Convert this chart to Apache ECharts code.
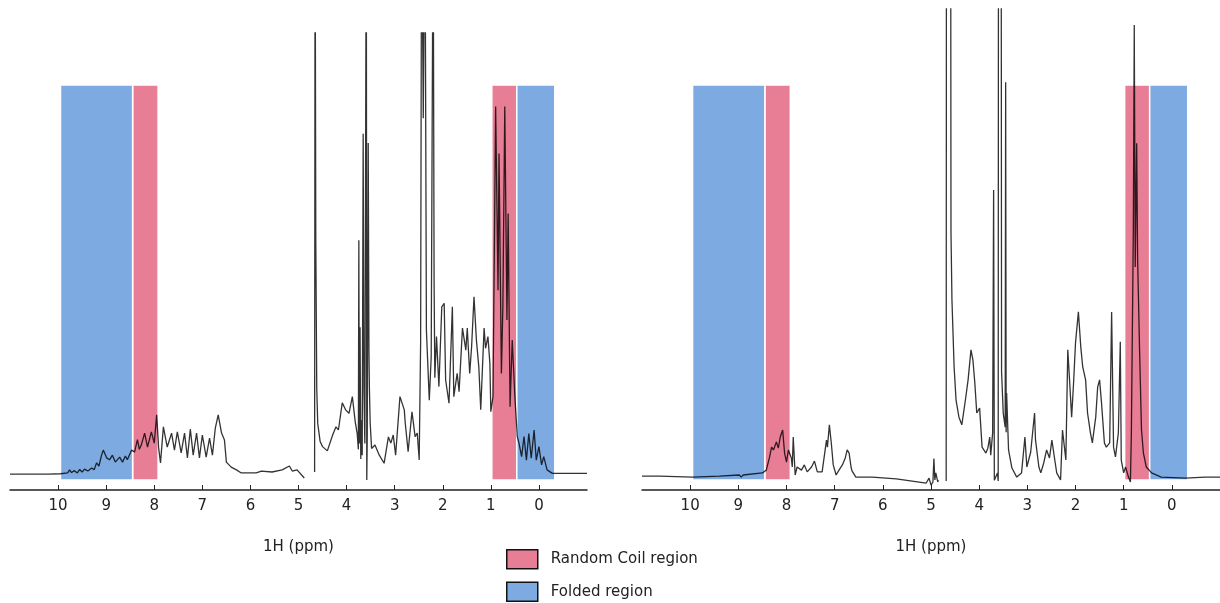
<!DOCTYPE html>
<html>
<head>
<meta charset="utf-8">
<script src="https://cdn.jsdelivr.net/npm/echarts@6/dist/echarts.min.js"></script>
<style>
html,body{margin:0;padding:0;background:#fff;}
#chart{width:1220px;height:603px;}
</style>
</head>
<body>
<div id="chart"></div>
<script>
// ---- data ----
const tickValues = [0,1,2,3,4,5,6,7,8,9,10];
const axisTitle = '1H (ppm)';
const randomCoilName = 'Random Coil region';
const foldedName = 'Folded region';
const randomCoilRanges = [[8.45, 7.92], [0.98, 0.46]];
const foldedRanges = [[9.95, 8.45], [0.46, -0.33]];
const leftRegionY = [-1.4, 100.6];
const rightRegionY = [-1.1, 112.2];

const leftPpm = [11.0,10.2,9.95,9.8,9.76,9.72,9.66,9.6,9.55,9.5,9.45,9.38,9.3,9.25,9.2,9.15,9.1,9.06,8.99,8.93,8.87,8.81,8.72,8.66,8.6,8.56,8.47,8.41,8.35,8.31,8.27,8.2,8.14,8.06,8.0,7.95,7.91,7.87,7.81,7.73,7.64,7.58,7.52,7.44,7.37,7.31,7.25,7.19,7.12,7.06,7.0,6.92,6.85,6.79,6.73,6.67,6.6,6.54,6.5,6.4,6.29,6.19,5.88,5.77,5.55,5.34,5.19,5.13,5.03,4.88,4.8,
4.665,4.655,4.64,4.62,4.6,4.55,4.5,4.4,4.29,4.22,4.17,4.09,4.02,3.95,3.88,3.82,3.78,3.755,3.745,3.735,3.72,3.705,3.69,3.675,3.655,3.64,3.62,3.59,3.58,3.57,3.55,3.535,3.525,3.51,3.48,3.41,3.32,3.22,3.13,3.08,3.03,2.98,2.89,2.8,2.78,2.72,2.64,2.575,2.53,2.49,2.46,2.44,2.405,2.37,2.34,2.28,2.24,2.2,2.18,2.165,2.13,2.08,2.02,1.97,1.94,1.87,1.8,1.77,1.7,1.66,1.59,1.52,1.49,1.44,1.4,1.35,1.3,1.25,1.21,1.14,1.11,1.06,1.02,1.0,0.955,0.9,0.85,0.83,0.78,0.75,0.71,0.665,0.64,0.6,0.555,0.5,0.45,0.415,0.36,0.31,0.26,0.21,0.16,0.1,0.055,0.0,-0.055,-0.1,-0.17,-0.28,-1.0];
const leftIntensity = [0.1,0.1,0.2,0.4,1.2,0.5,1.0,0.4,1.3,0.6,1.4,0.9,1.7,1.2,3.0,2.2,4.8,6.3,4.3,3.8,5.0,3.2,4.5,3.2,4.8,3.8,6.3,5.8,9.0,6.5,7.6,10.7,7.1,11.0,8.1,15.4,7.0,3.0,12.3,7.1,10.7,6.3,11.0,5.6,10.7,4.3,11.7,5.0,10.7,4.3,10.2,4.5,9.4,5.0,12.0,15.4,10.7,8.9,3.2,1.9,1.2,0.4,0.4,0.9,0.65,1.2,2.2,0.9,1.2,-0.9,null,
0.65,150,60,22,13.2,8.5,7.2,6.1,10.2,12.3,11.5,18.5,16.7,15.8,20.1,13.6,10.6,6.5,60.5,8,38,4,14,5,88,22,8,150,-1.4,10,85.6,32,22,13.5,6.7,7.6,5.0,2.9,9.7,8.1,10.2,5.0,20.1,16.7,13.3,5.9,16.2,9.8,10.7,3.75,34.3,150,92,150,37.3,19.2,30.4,150,50,25,35.6,22.7,43.3,44.2,24.4,18.4,43.3,20.1,26.1,21.4,37.8,32.1,37.8,26.1,33.0,45.9,34.7,27.8,16.7,37.8,32.6,35.6,28.7,16.2,20.1,95.0,47.6,82.9,26.1,43.3,95.0,39.9,67.4,17.5,34.7,20.1,9.8,8.1,4.6,9.8,3.7,10.6,4.2,11.5,3.7,7.2,2.5,4.6,1.2,0.3,0.3];

const rightPpm = [11.0,10.63,9.95,9.4,8.98,8.94,8.9,8.5,8.42,8.35,8.31,8.27,8.21,8.17,8.13,8.08,8.04,8.0,7.96,7.9,7.88,7.86,7.82,7.78,7.69,7.63,7.57,7.48,7.42,7.36,7.26,7.17,7.15,7.11,7.07,7.03,6.97,6.91,6.84,6.78,6.74,6.7,6.66,6.64,6.56,6.22,5.72,5.1,5.04,5.0,4.96,4.94,4.92,4.9,4.86,4.85,4.75,
4.685,4.675,4.6,4.585,4.565,4.52,4.48,4.42,4.36,4.28,4.23,4.17,4.13,4.09,4.05,3.99,3.94,3.86,3.82,3.78,3.76,3.72,3.7,3.685,3.62,3.605,3.595,3.55,3.535,3.5,3.46,3.45,3.44,3.43,3.39,3.32,3.22,3.12,3.05,3.01,2.93,2.85,2.83,2.76,2.72,2.66,2.6,2.54,2.49,2.43,2.39,2.31,2.27,2.2,2.16,2.12,2.08,2.04,2.0,1.94,1.89,1.85,1.79,1.75,1.69,1.65,1.58,1.54,1.5,1.46,1.4,1.36,1.29,1.25,1.21,1.17,1.11,1.07,1.05,1.0,0.96,0.9,0.86,0.84,0.8,0.78,0.76,0.73,0.71,0.67,0.63,0.59,0.53,0.42,0.22,-0.28,-0.69,-1.0];
const rightIntensity = [0.0,0.0,-0.3,0.0,0.3,-0.3,0.3,0.9,1.7,5.5,8.3,7.5,9.8,8.0,11.2,13.2,6.6,4.0,7.5,5.2,2.6,11.2,0.3,2.6,1.7,3.2,1.2,2.6,4.3,1.2,1.2,10.3,8.3,14.7,9.5,3.2,0.3,1.7,3.2,5.2,7.5,6.6,2.6,1.5,-0.3,-0.3,-0.8,-2.0,-0.6,-2.6,-1.7,5.0,-1.1,0.9,-1.7,-1.1,null,
-1.4,300,300,70,50.5,31.3,21.8,16.9,14.7,22.4,27.6,36.2,33.3,26.7,18.1,19.5,8.3,6.6,8.0,11.2,6.0,12.4,82.1,-1.2,0.9,-1.4,300,300,30,18,14,113,12.6,23.8,7.5,2.3,-0.3,0.9,11.2,2.6,6.9,18.1,10.3,2.6,0.9,3.75,7.5,5.2,10.3,4.6,0.9,-1.1,13.2,4.6,36.2,26.7,16.9,26.7,38.2,47.1,37.0,31.3,27.6,18.1,12.4,9.5,16.9,25.5,27.6,21.0,9.5,8.3,9.5,47.1,8.3,5.5,12.4,38.5,4.6,0.9,2.6,-0.3,-1.7,12.4,69.7,129.4,60.0,95.5,62.0,36.2,13.2,6.6,2.6,0.9,-0.3,-0.6,-0.3,-0.3];

// ---- chart ----
const PINK = '#e87d96';
const BLUE = '#7eaae2';
const FONT = 'DejaVu Sans';

function pairs(xs, ys){ return xs.map((x,i)=>[x, ys[i] === null ? '-' : ys[i]]); }
function areas(ranges, yr){
  return ranges.map(r => [{coord:[r[0], yr[0]]}, {coord:[r[1], yr[1]]}]);
}
function xAxisFor(gi){
  return {
    gridIndex: gi, type:'value', min:-1, max:11, interval:1, inverse:true,
    axisLine:{show:true, onZero:false, lineStyle:{color:'#222', width:1.5}},
    axisTick:{show:true, inside:true, length:5, customValues: tickValues, lineStyle:{color:'#222', width:1}},
    axisLabel:{show:true, customValues: tickValues, color:'#222', fontSize:15, fontFamily:FONT, margin:9},
    splitLine:{show:false},
    name: axisTitle, nameLocation:'middle', nameGap:50,
    nameTextStyle:{color:'#222', fontSize:15, fontFamily:FONT}
  };
}
function yAxisFor(gi, mn, mx){
  return {gridIndex:gi, type:'value', min:mn, max:mx, show:false, splitLine:{show:false}};
}
function spectrum(gi, xs, ys){
  return {type:'line', xAxisIndex:gi, yAxisIndex:gi, data:pairs(xs, ys), showSymbol:false,
    symbol:'none', connectNulls:false, clip:true, z:5, animation:false,
    lineStyle:{color:'rgba(0,0,0,0.8)', width:1.3}, silent:true};
}
function regionSeries(gi, name, color, ranges, yr){
  return {type:'line', name:name, xAxisIndex:gi, yAxisIndex:gi, data:[], z:1, animation:false,
    itemStyle:{color:color}, lineStyle:{color:color},
    markArea:{silent:true, itemStyle:{color:color, opacity:1, borderColor:'#fff', borderWidth:1.5},
      data: areas(ranges, yr)}};
}

const chart = echarts.init(document.getElementById('chart'), null, {renderer:'canvas'});
chart.setOption({
  animation:false,
  backgroundColor:'#fff',
  textStyle:{fontFamily:FONT},
  grid:[
    {left:10, top:33, width:577, height:457},
    {left:642, top:9, width:580, height:481}
  ],
  xAxis:[xAxisFor(0), xAxisFor(1)],
  yAxis:[yAxisFor(0,-4,114), yAxisFor(1,-4,134)],
  legend:{
    orient:'vertical', left:506, top:549, height:60, padding:0,
    itemWidth:31, itemHeight:19, itemGap:12,
    selectedMode:false,
    textStyle:{color:'#222', fontSize:15, fontFamily:FONT, padding:[0,0,0,8]},
    data:[
      {name:randomCoilName, icon:'rect', itemStyle:{color:PINK, borderColor:'#111', borderWidth:1.5}},
      {name:foldedName, icon:'rect', itemStyle:{color:BLUE, borderColor:'#111', borderWidth:1.5}}
    ]
  },
  series:[
    regionSeries(0, randomCoilName, PINK, randomCoilRanges, leftRegionY),
    regionSeries(0, foldedName, BLUE, foldedRanges, leftRegionY),
    regionSeries(1, randomCoilName, PINK, randomCoilRanges, rightRegionY),
    regionSeries(1, foldedName, BLUE, foldedRanges, rightRegionY),
    spectrum(0, leftPpm, leftIntensity),
    spectrum(1, rightPpm, rightIntensity)
  ]
});
</script>
</body>
</html>
